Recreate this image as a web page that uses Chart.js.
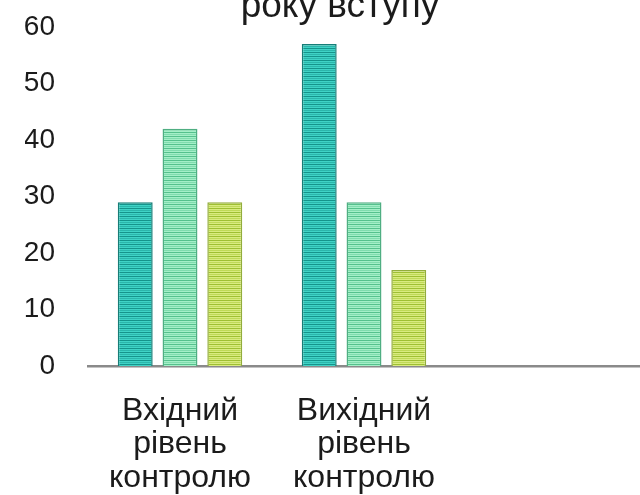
<!DOCTYPE html>
<html lang="uk">
<head>
  <meta charset="UTF-8" />
  <title>Рівень контролю</title>
  <style>
    html, body { margin: 0; padding: 0; background: #fff; }
    #chart { display: block; }
  </style>
</head>
<body>
  <canvas id="chart" width="640" height="495"></canvas>

  <script src="https://cdn.jsdelivr.net/npm/chart.js"></script>
  <script>
    // дані
    const categories = [['Вхідний', 'рівень', 'контролю'], ['Вихідний', 'рівень', 'контролю'], ''];
    const seriesA = [29, 57, null];
    const seriesB = [42, 29, null];
    const seriesC = [29, 17, null];
    const titleText = 'року вступу';

    // смугаста заливка
    function stripes(base, dark, mid) {
      const c = document.createElement('canvas');
      c.width = 4; c.height = 4;
      const g = c.getContext('2d');
      g.fillStyle = base; g.fillRect(0, 0, 4, 4);
      g.fillStyle = dark; g.fillRect(0, 0, 4, 1);
      g.fillStyle = mid; g.fillRect(0, 2, 4, 1);
      return g.createPattern(c, 'repeat');
    }

    const cut = { categoryPercentage: 0.73, barPercentage: 0.78, borderWidth: 1.5 };
    const font = '"Liberation Sans", Arial, sans-serif';

    // обрізаний заголовок зверху
    const topTitle = {
      id: 'topTitle',
      afterDraw(chart) {
        const ctx = chart.ctx;
        ctx.save();
        ctx.font = '37px ' + font;
        ctx.fillStyle = '#1b1b1b';
        ctx.textAlign = 'center';
        ctx.textBaseline = 'alphabetic';
        ctx.fillText(titleText, 340, 17);
        ctx.restore();
      }
    };

    new Chart(document.getElementById('chart').getContext('2d'), {
      type: 'bar',
      data: {
        labels: categories,
        datasets: [
          { data: seriesA, backgroundColor: stripes('#3fd3c6', '#15948b', '#2bb6ab'), borderColor: '#167d77', ...cut },
          { data: seriesB, backgroundColor: stripes('#a4efc8', '#55c18d', '#80dcae'), borderColor: '#4fae82', ...cut },
          { data: seriesC, backgroundColor: stripes('#d9eb80', '#9fbf32', '#bfd957'), borderColor: '#93ad3c', ...cut }
        ]
      },
      options: {
        responsive: false,
        animation: false,
        layout: { padding: { left: 25, right: 0, top: 27, bottom: 0 } },
        plugins: { legend: { display: false }, title: { display: false }, tooltip: { enabled: false } },
        scales: {
          x: {
            grid: { display: false, drawTicks: false },
            border: { display: true, color: '#8a8a8a', width: 2.5 },
            afterFit(scale) { scale.height = 129; },
            ticks: {
              color: '#1b1b1b', padding: 28, maxRotation: 0,
              font: { family: font, size: 32, lineHeight: 1.05 }
            }
          },
          y: {
            min: 0, max: 60,
            grid: { display: false, drawTicks: false },
            border: { display: false },
            afterFit(scale) {
              scale.width = 63;
              scale.paddingTop = 0;
              scale.paddingBottom = 0;
            },
            ticks: {
              stepSize: 10, color: '#1b1b1b', padding: 33,
              font: { family: font, size: 28 }
            }
          }
        }
      },
      plugins: [topTitle]
    });
  </script>
</body>
</html>
